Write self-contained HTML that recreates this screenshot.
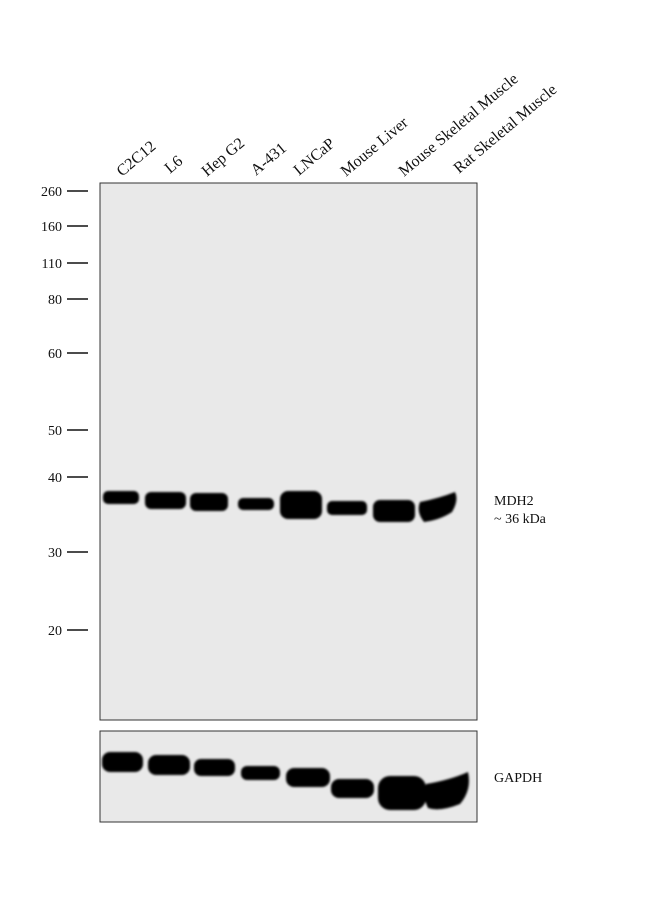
<!DOCTYPE html>
<html><head><style>
body{margin:0;background:#fff;width:650px;height:905px;overflow:hidden}
svg{display:block}
text{font-family:"Liberation Serif",serif;font-size:14px;fill:#111}
text.l{font-size:16px}
</style></head><body>
<svg width="650" height="905" viewBox="0 0 650 905">
<defs><filter id="b" x="-20%" y="-50%" width="140%" height="200%"><feGaussianBlur stdDeviation="1.1"/></filter></defs>
<rect x="100" y="183" width="377" height="537" fill="#e9e9e9" stroke="#333" stroke-width="1"/>
<rect x="100" y="731" width="377" height="91" fill="#e9e9e9" stroke="#333" stroke-width="1"/>
<text class="l" x="122" y="177" transform="rotate(-40 122 177)">C2C12</text>
<text class="l" x="170" y="174" transform="rotate(-40 170 174)">L6</text>
<text class="l" x="207" y="177" transform="rotate(-40 207 177)">Hep G2</text>
<text class="l" x="256" y="176" transform="rotate(-40 256 176)">A-431</text>
<text class="l" x="299" y="176" transform="rotate(-40 299 176)">LNCaP</text>
<text class="l" x="346" y="177" transform="rotate(-40 346 177)">Mouse Liver</text>
<text class="l" x="404" y="177" transform="rotate(-40 404 177)">Mouse Skeletal Muscle</text>
<text class="l" x="459" y="174" transform="rotate(-40 459 174)">Rat Skeletal Muscle</text>
<g text-anchor="end">
<text x="62" y="196">260</text><text x="62" y="231">160</text><text x="62" y="268">110</text>
<text x="62" y="304">80</text><text x="62" y="358">60</text><text x="62" y="435">50</text>
<text x="62" y="482">40</text><text x="62" y="557">30</text><text x="62" y="635">20</text>
</g>
<g stroke="#111" stroke-width="1.5">
<line x1="67" y1="191" x2="88" y2="191"/><line x1="67" y1="226" x2="88" y2="226"/>
<line x1="67" y1="263" x2="88" y2="263"/><line x1="67" y1="299" x2="88" y2="299"/>
<line x1="67" y1="353" x2="88" y2="353"/><line x1="67" y1="430" x2="88" y2="430"/>
<line x1="67" y1="477" x2="88" y2="477"/><line x1="67" y1="552" x2="88" y2="552"/>
<line x1="67" y1="630" x2="88" y2="630"/>
</g>
<g fill="#050505" filter="url(#b)">
<rect x="103" y="491" width="36" height="13" rx="5"/>
<rect x="145" y="492" width="41" height="17" rx="6"/>
<rect x="190" y="493" width="38" height="18" rx="6"/>
<rect x="238" y="498" width="36" height="12" rx="5"/>
<rect x="280" y="491" width="42" height="28" rx="8"/>
<rect x="327" y="501" width="40" height="14" rx="5"/>
<rect x="373" y="500" width="42" height="22" rx="7"/>
<path d="M420 502 Q440 498 455 492 Q459 500 452 512 Q440 520 424 522 Q416 512 420 502Z"/>
<rect x="102" y="752" width="41" height="20" rx="8"/>
<rect x="148" y="755" width="42" height="20" rx="8"/>
<rect x="194" y="759" width="41" height="17" rx="7"/>
<rect x="241" y="766" width="39" height="14" rx="6"/>
<rect x="286" y="768" width="44" height="19" rx="8"/>
<rect x="331" y="779" width="43" height="19" rx="8"/>
<rect x="378" y="776" width="48" height="34" rx="12"/>
<path d="M426 784 Q450 780 468 772 Q472 790 460 804 Q440 812 428 808 Q422 796 426 784Z"/>
</g>
<text x="494" y="505">MDH2</text>
<text x="494" y="523">~ 36 kDa</text>
<text x="494" y="782">GAPDH</text>
</svg>
</body></html>
